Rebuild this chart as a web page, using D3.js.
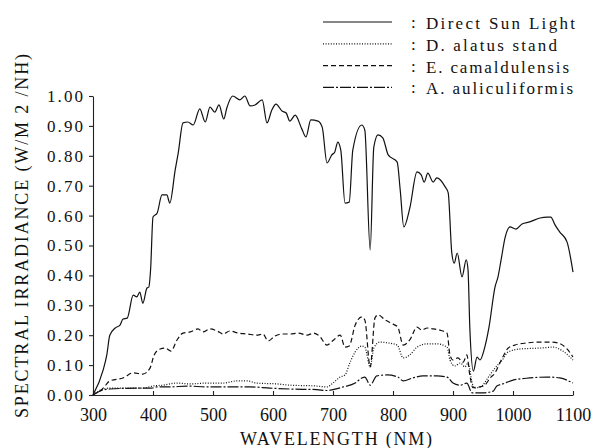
<!DOCTYPE html>
<html>
<head>
<meta charset="utf-8">
<script src="https://cdn.jsdelivr.net/npm/d3@7"></script>
<style>
  body { margin: 0; background: #fff; }
</style>
</head>
<body>
<div id="chart"></div>
<script>
// wavelength (nm), spectral irradiance
const sunLight = [
  [300,0],[317,0.084],[323,0.134],[328,0.2],[337,0.224],[345,0.234],[350,0.254],[357,0.257],
  [367,0.334],[373,0.328],[378,0.344],[383,0.307],[390,0.358],[393,0.361],[396,0.42],[400,0.595],
  [407,0.609],[415,0.669],[423,0.669],[428,0.642],[437,0.753],[442,0.809],[450,0.91],[458,0.913],
  [467,0.903],[478,0.957],[487,0.913],[495,0.963],[503,0.946],[510,0.97],[518,0.923],[523,0.96],
  [533,1.0],[545,0.987],[553,1.0],[562,0.967],[570,0.97],[582,0.987],[590,0.91],[598,0.953],
  [605,0.973],[615,0.95],[622,0.943],[628,0.916],[637,0.936],[648,0.89],[655,0.863],[663,0.92],
  [675,0.916],[682,0.896],[690,0.776],[698,0.803],[703,0.813],[708,0.846],[713,0.819],[720,0.642],
  [727,0.645],[733,0.819],[748,0.903],[753,0.886],[762,0.485],[768,0.829],[775,0.87],[783,0.86],
  [792,0.803],[807,0.779],[812,0.686],[818,0.562],[828,0.625],[840,0.746],[847,0.736],[852,0.712],
  [858,0.742],[867,0.712],[873,0.726],[887,0.696],[892,0.676],[898,0.475],[902,0.441],[907,0.475],
  [915,0.395],[922,0.452],[925,0.42],[928,0.227],[934,0.08],[940,0.127],[945,0.117],[953,0.16],
  [960,0.227],[970,0.361],[975,0.395],[980,0.45],[987,0.528],[995,0.562],[1005,0.555],[1015,0.572],
  [1028,0.579],[1045,0.592],[1057,0.595],[1063,0.595],[1070,0.569],[1078,0.545],[1090,0.512],[1100,0.411]
];

const alatusStand = [
  [300,0],[317,0.02],[328,0.023],[362,0.023],[383,0.023],[400,0.03],[417,0.033],[440,0.04],
  [462,0.037],[490,0.04],[517,0.04],[540,0.047],[557,0.047],[573,0.04],[607,0.037],[628,0.033],
  [673,0.03],[690,0.027],[700,0.04],[712,0.06],[720,0.067],[728,0.107],[737,0.144],[748,0.164],
  [753,0.16],[762,0.094],[768,0.157],[778,0.177],[792,0.174],[807,0.167],[817,0.124],[828,0.134],
  [840,0.16],[857,0.171],[873,0.171],[890,0.16],[895,0.117],[903,0.097],[912,0.107],[920,0.094],
  [925,0.107],[932,0.04],[935,0.023],[948,0.03],[958,0.057],[970,0.09],[982,0.117],[992,0.144],
  [1012,0.154],[1045,0.157],[1067,0.16],[1083,0.147],[1100,0.117]
];

const camaldulensis = [
  [300,0],[317,0.023],[328,0.047],[350,0.057],[367,0.074],[383,0.07],[395,0.09],[402,0.134],
  [412,0.154],[420,0.157],[430,0.147],[440,0.184],[450,0.207],[462,0.211],[475,0.221],[483,0.211],
  [495,0.221],[507,0.214],[517,0.204],[528,0.214],[542,0.207],[557,0.204],[573,0.2],[583,0.204],
  [592,0.181],[603,0.197],[615,0.204],[628,0.204],[642,0.207],[657,0.2],[667,0.207],[678,0.196],
  [690,0.167],[700,0.182],[712,0.2],[720,0.16],[727,0.164],[737,0.234],[748,0.261],[753,0.251],
  [762,0.094],[770,0.258],[775,0.268],[787,0.251],[800,0.237],[808,0.227],[817,0.167],[828,0.184],
  [840,0.227],[848,0.217],[857,0.224],[867,0.221],[878,0.217],[890,0.207],[895,0.134],[900,0.117],
  [908,0.124],[917,0.11],[923,0.134],[928,0.067],[933,0.025],[945,0.027],[953,0.033],[962,0.057],
  [970,0.074],[978,0.107],[983,0.127],[992,0.157],[1003,0.167],[1023,0.174],[1042,0.177],[1062,0.177],
  [1075,0.174],[1090,0.154],[1100,0.127]
];

const auliculiformis = [
  [300,0],[317,0.017],[328,0.02],[378,0.023],[398,0.023],[407,0.027],[428,0.027],[457,0.03],
  [490,0.027],[528,0.027],[562,0.027],[595,0.023],[628,0.02],[673,0.018],[690,0.015],[700,0.018],
  [717,0.027],[737,0.04],[748,0.057],[753,0.06],[762,0.033],[773,0.064],[790,0.067],[808,0.06],
  [817,0.047],[833,0.057],[850,0.064],[873,0.064],[890,0.06],[900,0.04],[912,0.033],[923,0.04],
  [932,0.007],[950,0.007],[967,0.013],[973,0.03],[983,0.037],[1000,0.05],[1028,0.057],[1057,0.06],
  [1078,0.057],[1100,0.04]
];

const xTicks = [300, 400, 500, 600, 700, 800, 900, 1000, 1100];
const yTicks = [0, 0.1, 0.2, 0.3, 0.4, 0.5, 0.6, 0.7, 0.8, 0.9, 1.0];

const seriesNames = ["Direct Sun Light", "D. alatus stand", "E. camaldulensis", "A. auliculiformis"];

const series = [
  { name: seriesNames[0], data: sunLight, dash: null, textLen: 149 },
  { name: seriesNames[1], data: alatusStand, dash: "1,1.6", textLen: 131 },
  { name: seriesNames[2], data: camaldulensis, dash: "5,3", textLen: 143 },
  { name: seriesNames[3], data: auliculiformis, dash: "11,2,2,2", textLen: 147 }
];

const FONT = "Liberation Serif";

const W = 594, H = 448;
const margin = { top: 96, right: 21, bottom: 53, left: 93 };
const width = W - margin.left - margin.right;
const height = H - margin.top - margin.bottom;

const root = d3.select("#chart").append("svg")
    .attr("width", W)
    .attr("height", H)
    .attr("font-family", FONT);

root.append("rect").attr("width", W).attr("height", H).attr("fill", "#fff");

const svg = root.append("g")
    .attr("transform", `translate(${margin.left}, ${margin.top})`);

const x = d3.scaleLinear().domain([300, 1100]).range([0, width]);
const y = d3.scaleLinear().domain([0, 1]).range([height, 0]);

// axes
const xAxis = svg.append("g")
    .attr("transform", `translate(0, ${height})`)
    .call(d3.axisBottom(x).tickValues(xTicks).tickSize(-4).tickSizeOuter(0).tickPadding(13).tickFormat(d3.format("d")));

const yAxis = svg.append("g")
    .call(d3.axisLeft(y).tickValues(yTicks).tickSize(4).tickSizeOuter(0).tickPadding(6).tickFormat(d3.format(".2f")));

xAxis.attr("font-family", FONT).attr("font-size", 18);
yAxis.attr("font-family", FONT).attr("font-size", 17);

xAxis.selectAll("text")
    .attr("dy", "0.71em");

yAxis.selectAll("text")
    .attr("textLength", 36)
    .attr("lengthAdjust", "spacing");

svg.selectAll(".domain, .tick line")
    .attr("stroke", "#222")
    .attr("stroke-width", 1.1);

svg.selectAll(".tick text").attr("fill", "#111");

// axis titles
root.append("text")
    .attr("x", 336)
    .attr("y", 445)
    .attr("text-anchor", "middle")
    .attr("font-size", 18)
    .attr("fill", "#111")
    .attr("textLength", 192)
    .attr("lengthAdjust", "spacing")
    .text("WAVELENGTH (NM)");

root.append("text")
    .attr("transform", "translate(28, 236) rotate(-90)")
    .attr("text-anchor", "middle")
    .attr("font-size", 18)
    .attr("fill", "#111")
    .attr("textLength", 364)
    .attr("lengthAdjust", "spacing")
    .text("SPECTRAL IRRADIANCE (W/M 2 /NH)");

// curves
const line = d3.line()
    .x(d => x(d[0]))
    .y(d => y(d[1]))
    .curve(d3.curveMonotoneX);

svg.selectAll("path.series")
    .data(series)
    .enter().append("path")
    .attr("class", "series")
    .attr("fill", "none")
    .attr("stroke", "#111")
    .attr("stroke-width", 1.2)
    .attr("stroke-dasharray", d => d.dash)
    .attr("d", d => line(d.data));

// legend
const legend = root.append("g");
const rows = legend.selectAll("g")
    .data(series)
    .enter().append("g")
    .attr("transform", (d, i) => `translate(0, ${22 + i * 21.8})`);

rows.append("line")
    .attr("x1", 323).attr("x2", 392)
    .attr("y1", 0).attr("y2", 0)
    .attr("stroke", "#111")
    .attr("stroke-width", 1.2)
    .attr("stroke-dasharray", d => d.dash);

rows.append("text")
    .attr("x", 411)
    .attr("y", 6)
    .attr("font-size", 17)
    .attr("fill", "#111")
    .text(":");

rows.append("text")
    .attr("x", 426)
    .attr("y", 7)
    .attr("font-size", 17)
    .attr("fill", "#111")
    .attr("textLength", d => d.textLen)
    .attr("lengthAdjust", "spacing")
    .text(d => d.name);
</script>
</body>
</html>
